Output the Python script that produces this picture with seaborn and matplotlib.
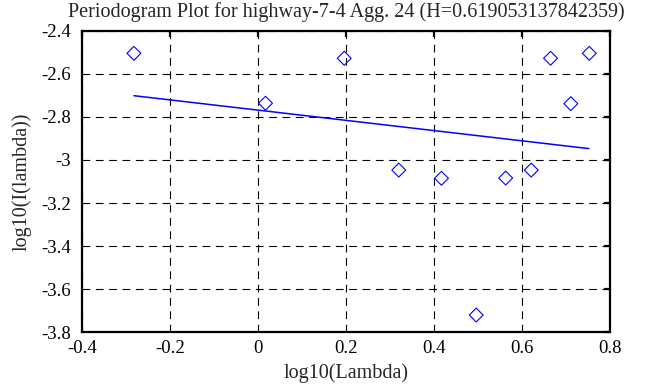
import matplotlib
matplotlib.use('Agg')
import matplotlib.pyplot as plt
import seaborn as sns
import pandas as pd

# periodogram points (log10 lambda, log10 I(lambda))
log_lambda = [-0.282, 0.017, 0.196, 0.320, 0.417, 0.496, 0.563, 0.621, 0.665, 0.711, 0.753]
log_i = [-2.504, -2.736, -2.527, -3.047, -3.085, -3.721, -3.084, -3.047, -2.527, -2.738, -2.504]

# fitted line end points
fit_x = [-0.282, 0.752]
fit_y = [-2.701, -2.947]

title = 'Periodogram Plot for highway-7-4 Agg. 24 (H=0.619053137842359)'
xticks = [-0.4, -0.2, 0, 0.2, 0.4, 0.6, 0.8]
yticks = [-3.8, -3.6, -3.4, -3.2, -3, -2.8, -2.6, -2.4]

sns.set_style('white')
plt.rcParams['font.family'] = ['Liberation Serif', 'DejaVu Serif']

df = pd.DataFrame({'x': log_lambda, 'y': log_i})
fit = pd.DataFrame({'x': fit_x, 'y': fit_y})

fig = plt.figure(figsize=(6.63, 3.87), dpi=100)
ax = fig.add_axes([0.1237, 0.142, 0.7963, 0.778])

sns.lineplot(data=fit, x='x', y='y', color='blue', linewidth=1.1, ax=ax)
sns.scatterplot(data=df, x='x', y='y', marker='D', s=50, facecolors='none',
                edgecolor='blue', linewidth=0.8, ax=ax, zorder=3)

ax.set_xlim(-0.4, 0.8)
ax.set_ylim(-3.8, -2.4)
ax.set_xticks(xticks)
ax.set_yticks(yticks)
ax.set_xticklabels(['-0.4', '-0.2', '0', '0.2', '0.4', '0.6', '0.8'])
ax.set_yticklabels(['-3.8', '-3.6', '-3.4', '-3.2', '-3', '-2.8', '-2.6', '-2.4'])
ax.grid(True, color='black', linestyle=(0, (7, 5)), linewidth=0.8)
for s in ax.spines.values():
    s.set_color('black')
    s.set_linewidth(1.6)
ax.tick_params(direction='in', length=4, width=1.6, top=True, right=True,
               labelsize=13.5, colors='black')
ax.tick_params(axis='x', pad=6)
ax.tick_params(axis='y', pad=8)

ax.set_title(title, fontsize=14.5, pad=10)
ax.set_xlabel('log10(Lambda)', fontsize=14.5, labelpad=4)
ax.set_ylabel('log10(I(lambda))', fontsize=14.5, labelpad=7)

plt.savefig('out.png', dpi=100)
